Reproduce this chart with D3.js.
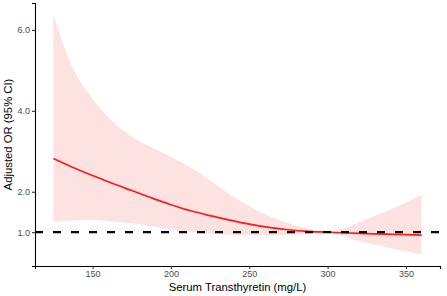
<!DOCTYPE html>
<html>
<head>
<meta charset="utf-8">
<script src="https://cdn.jsdelivr.net/npm/d3@7"></script>
<style>
  body { margin: 0; background: #fff; }
  svg { display: block; font-family: "Liberation Sans", Arial, sans-serif; }
</style>
</head>
<body>
<div id="chart"></div>
<script>
// Serum transthyretin (mg/L) vs adjusted OR with 95% CI band
const ttr = [125, 137.5, 150, 162.5, 175, 187.5, 200, 212.5, 225, 237.5, 250, 262.5, 275, 287.5, 300, 312.5, 325, 337.5, 350, 360];
const orFit = [2.82, 2.60, 2.40, 2.21, 2.03, 1.85, 1.68, 1.53, 1.41, 1.30, 1.20, 1.12, 1.06, 1.02, 1.00, 0.98, 0.965, 0.95, 0.94, 0.93];
const ciUpper = [6.37, 5.05, 4.30, 3.75, 3.36, 3.10, 2.86, 2.60, 2.28, 1.94, 1.64, 1.40, 1.22, 1.09, 1.01, 1.13, 1.32, 1.52, 1.73, 1.92];
const ciLower = [1.26, 1.29, 1.30, 1.27, 1.22, 1.15, 1.07, 1.01, 0.96, 0.94, 0.93, 0.92, 0.93, 0.96, 0.99, 0.87, 0.73, 0.63, 0.53, 0.46];

const yTicks = [1, 2, 4, 6];
const xTicks = [150, 200, 250, 300, 350];
const refLine = 1;

const width = 447, height = 296;
const margin = { top: 3, right: 7, bottom: 30, left: 35 };

const svg = d3.select("#chart").append("svg")
  .attr("width", width)
  .attr("height", height);

const rows = ttr.map((t, i) => ({ t, or: orFit[i], lo: ciLower[i], hi: ciUpper[i] }));

// ggplot-style 5% expansion
const xExt = d3.extent(ttr);
const xPad = (xExt[1] - xExt[0]) * 0.05;
const yMin = d3.min(ciLower), yMax = d3.max(ciUpper);
const yPad = (yMax - yMin) * 0.05;

const x = d3.scaleLinear()
  .domain([xExt[0] - xPad, xExt[1] + xPad])
  .range([margin.left, width - margin.right]);

const y = d3.scaleLinear()
  .domain([yMin - yPad, yMax + yPad])
  .range([height - margin.bottom, margin.top]);

// CI band
svg.append("path")
  .datum(rows)
  .attr("fill", "#fde2e2")
  .attr("d", d3.area()
    .x(d => x(d.t))
    .y0(d => y(d.lo))
    .y1(d => y(d.hi))
    .curve(d3.curveMonotoneX));

// fitted OR
svg.append("path")
  .datum(rows)
  .attr("fill", "none")
  .attr("stroke", "#ff1a1a")
  .attr("stroke-width", 1.7)
  .attr("d", d3.line()
    .x(d => x(d.t))
    .y(d => y(d.or))
    .curve(d3.curveMonotoneX));

// reference line OR = 1
svg.append("line")
  .attr("x1", x.range()[0])
  .attr("x2", x.range()[1])
  .attr("y1", y(refLine))
  .attr("y2", y(refLine))
  .attr("stroke", "#000")
  .attr("stroke-width", 2.2)
  .attr("stroke-dasharray", "8,10");

// axes
const xAxis = svg.append("g")
  .attr("transform", `translate(0,${height - margin.bottom})`)
  .call(d3.axisBottom(x).tickValues(xTicks).tickSizeOuter(0).tickSize(3).tickPadding(2));

const yAxis = svg.append("g")
  .attr("transform", `translate(${margin.left},0)`)
  .call(d3.axisLeft(y).tickValues(yTicks).tickFormat(d3.format(".1f")).tickSizeOuter(0).tickSize(3).tickPadding(2));

[xAxis, yAxis].forEach(a => {
  a.select(".domain").attr("stroke", "#000").attr("stroke-width", 1.1);
  a.selectAll(".tick line").attr("stroke", "#333").attr("stroke-width", 1.1);
  a.selectAll(".tick text")
    .attr("fill", "#4d4d4d")
    .style("font-size", "9px")
    .style("font-family", "\"Liberation Sans\", Arial, sans-serif");
});

// axis titles
svg.append("text")
  .attr("x", (x.range()[0] + x.range()[1]) / 2)
  .attr("y", 290.5)
  .attr("text-anchor", "middle")
  .style("font-size", "11.3px")
  .attr("fill", "#000")
  .text("Serum Transthyretin (mg/L)");

svg.append("text")
  .attr("transform", `translate(11.5,${(y.range()[0] + y.range()[1]) / 2}) rotate(-90)`)
  .attr("text-anchor", "middle")
  .style("font-size", "11.3px")
  .attr("fill", "#000")
  .text("Adjusted OR (95% CI)");
</script>
</body>
</html>
